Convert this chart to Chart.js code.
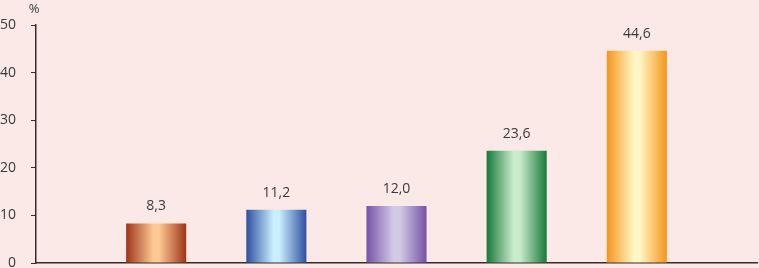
<!DOCTYPE html>
<html>
<head>
<meta charset="utf-8">
<script src="https://cdn.jsdelivr.net/npm/chart.js@4/dist/chart.umd.min.js"></script>
<style>
  html, body { margin: 0; padding: 0; background: #fae9e6; }
  #wrap { width: 759px; height: 268px; position: relative; }
</style>
</head>
<body>
<div id="wrap"><canvas id="c"></canvas></div>
<script>
// empty slots on both ends keep the bars spaced like the original
const categories = ['', 'A', 'B', 'C', 'D', 'E', ''];
const shares = [null, 8.3, 11.2, 12.0, 23.6, 44.6, null];
const yTicks = [0, 10, 20, 30, 40, 50];
const unitLabel = '%';

// edge / centre colours of each bar's gradient
const edgeColors = [null, '#9c3519', '#2f4fa0', '#7552a6', '#17793a', '#f6951c', null];
const midColors = [null, '#fdc894', '#c9eefd', '#d3cbe6', '#cbeccb', '#fef6c4', null];

const textColor = '#3a3a3a';
const axisColor = '#3b2a2a';

function barGradient(ctx) {
    const i = ctx.dataIndex;
    const chart = ctx.chart;
    const x = chart.scales.x;
    if (!x || edgeColors[i] == null) return 'rgba(0,0,0,0)';
    const step = x.getPixelForValue(1) - x.getPixelForValue(0);
    const cx = x.getPixelForValue(i);
    const half = step * 0.25;
    const g = chart.ctx.createLinearGradient(cx - half, 0, cx + half, 0);
    g.addColorStop(0, edgeColors[i]);
    g.addColorStop(0.45, midColors[i]);
    g.addColorStop(0.55, midColors[i]);
    g.addColorStop(1, edgeColors[i]);
    return g;
}

const valueLabels = {
    id: 'valueLabels',
    afterDatasetsDraw(chart) {
        const c = chart.ctx;
        const meta = chart.getDatasetMeta(0);
        c.save();
        c.font = '14px "Open Sans", sans-serif';
        c.fillStyle = textColor;
        c.textAlign = 'center';
        c.textBaseline = 'bottom';
        meta.data.forEach((bar, i) => {
            if (shares[i] == null) return;
            c.fillText(shares[i].toFixed(1).replace('.', ','), bar.x, bar.y - 10);
        });
        // unit above the y axis
        c.font = '13px "Open Sans", sans-serif';
        c.textAlign = 'center';
        c.textBaseline = 'alphabetic';
        c.fillText(unitLabel, chart.scales.y.right - 2, 13);
        c.restore();
    }
};

new Chart(document.getElementById('c'), {
    type: 'bar',
    data: {
        labels: categories,
        datasets: [{
            data: shares,
            backgroundColor: barGradient,
            borderWidth: 0,
            barPercentage: 0.5,
            categoryPercentage: 1.0
        }]
    },
    options: {
        responsive: true,
        maintainAspectRatio: false,
        animation: false,
        layout: { padding: { top: 25, bottom: 5, right: 2 } },
        plugins: { legend: { display: false }, tooltip: { enabled: false } },
        scales: {
            x: {
                offset: false,
                grid: { display: false },
                ticks: { display: false },
                border: { color: axisColor, width: 1.5 },
                afterFit(scale) {
                    scale.height = 0;
                    scale.paddingLeft = 0;
                    scale.paddingRight = 0;
                }
            },
            y: {
                min: 0,
                max: 50,
                afterBuildTicks(scale) { scale.ticks = yTicks.map(v => ({ value: v })); },
                grid: { drawOnChartArea: false, drawTicks: true, tickLength: 5, color: axisColor },
                border: { color: axisColor, width: 1.5 },
                ticks: {
                    color: textColor,
                    padding: 15,
                    font: { family: '"Open Sans", sans-serif', size: 14 }
                },
                afterFit(scale) {
                    scale.width = 36;
                    scale.paddingTop = 0;
                    scale.paddingBottom = 0;
                }
            }
        }
    },
    plugins: [valueLabels]
});
</script>
</body>
</html>
